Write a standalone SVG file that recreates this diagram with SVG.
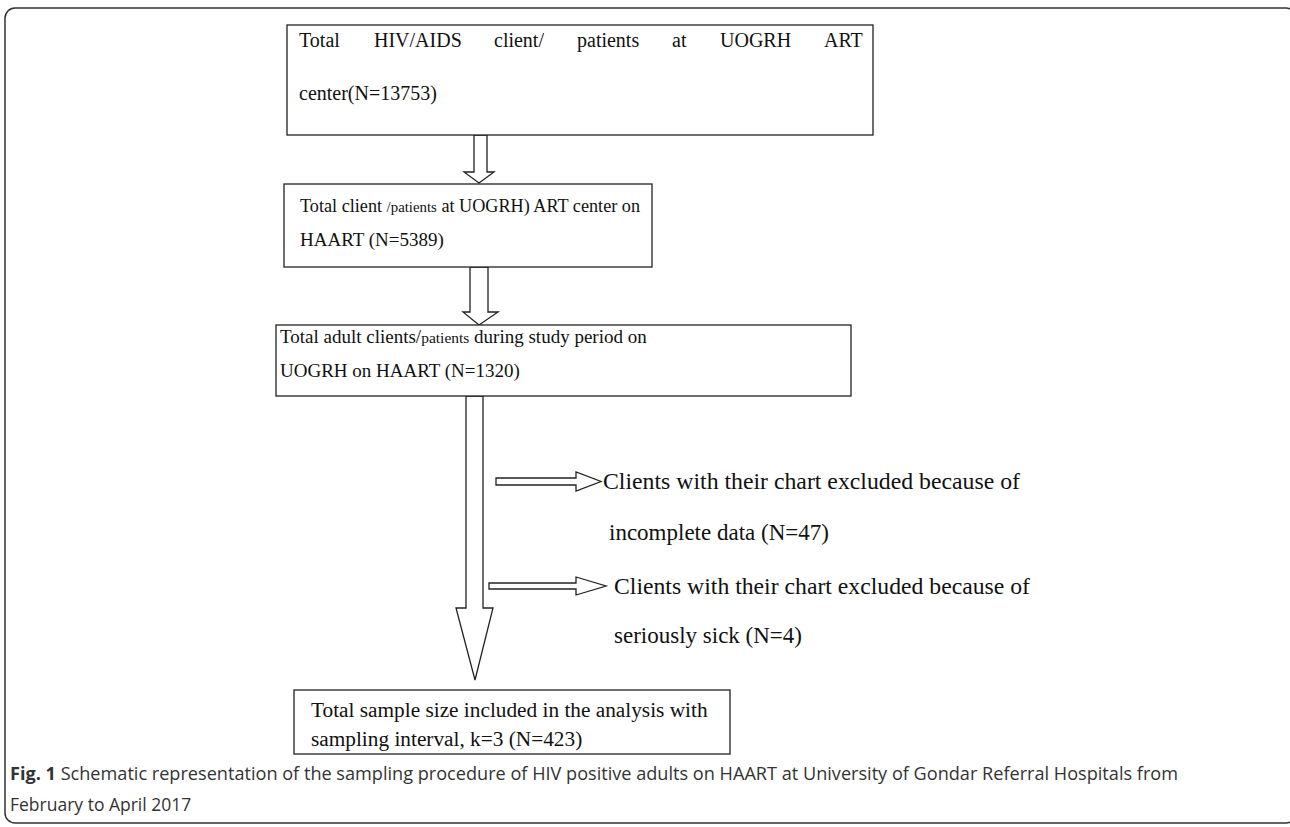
<svg xmlns="http://www.w3.org/2000/svg" width="1290" height="827" viewBox="0 0 1290 827">
<style>
.box{fill:#fff;stroke:#222;stroke-width:1.3}
.arr{fill:#fff;stroke:#222;stroke-width:1.3;stroke-linejoin:miter}
.t{font-family:"Liberation Serif","Times New Roman",serif;font-size:19px;fill:#111}
.t1{font-size:20px}
.t4{font-size:21.3px}
.side{font-size:23px}
.sm{font-size:15.5px}
.cap{font-family:"Open Sans","Noto Sans",sans-serif;font-size:17.5px;fill:#333}
</style>
<rect x="5" y="8" width="1291" height="815" rx="10" ry="10" fill="none" stroke="#333" stroke-width="1.5"/>
<g id="connectors">
<polygon class="arr" points="474,135 487,135 487,172 494,172 479,183 464,172 474,172"/>
<polygon class="arr" points="470,267 488,267 488,312 498,312 479,325 463,312 470,312"/>
<polygon class="arr" points="466,396 483,396 483,608 493,608 475,680 456,608 466,608"/>
<polygon class="arr" points="496,478 576,478 576,472 601,481.5 576,491 576,485 496,485"/>
<polygon class="arr" points="489,583 576,583 576,577 606,586 576,595 576,589 489,589"/>
</g>
<g id="node1">
<rect class="box" x="287" y="25" width="586" height="110"/>
<text class="t t1" y="47"><tspan x="299">Total</tspan><tspan x="374">HIV/AIDS</tspan><tspan x="494">client/</tspan><tspan x="577">patients</tspan><tspan x="672">at</tspan><tspan x="720">UOGRH</tspan><tspan x="824">ART</tspan></text>
<text class="t t1" x="299" y="100">center(N=13753)</text>
</g>
<g id="node2">
<rect class="box" x="284" y="184" width="368" height="83"/>
<text class="t" x="300" y="212" textLength="340" lengthAdjust="spacingAndGlyphs">Total client <tspan class="sm">/patients</tspan> at UOGRH) ART center on</text>
<text class="t" x="300" y="246">HAART (N=5389)</text>
</g>
<g id="node3">
<rect class="box" x="276" y="325" width="575" height="71"/>
<text class="t" x="280" y="343">Total adult clients/<tspan class="sm">patients</tspan> during study period on</text>
<text class="t" x="280" y="377">UOGRH on HAART (N=1320)</text>
</g>
<g id="excl1">
<text class="t side" x="603" y="489" textLength="417" lengthAdjust="spacingAndGlyphs">Clients with their chart excluded because of</text>
<text class="t side" x="609" y="540">incomplete data (N=47)</text>
</g>
<g id="excl2">
<text class="t side" x="614" y="594" textLength="416" lengthAdjust="spacingAndGlyphs">Clients with their chart excluded because of</text>
<text class="t side" x="614" y="643">seriously sick (N=4)</text>
</g>
<g id="node4">
<rect class="box" x="294" y="690" width="436" height="64"/>
<text class="t t4" x="311" y="717">Total sample size included in the analysis with</text>
<text class="t t4" x="311" y="746">sampling interval, k=3 (N=423)</text>
</g>
<g id="caption">
<text class="cap" x="10" y="780" textLength="1168" lengthAdjust="spacingAndGlyphs"><tspan font-weight="bold">Fig. 1</tspan> Schematic representation of the sampling procedure of HIV positive adults on HAART at University of Gondar Referral Hospitals from</text>
<text class="cap" x="10" y="811">February to April 2017</text>
</g>
</svg>
